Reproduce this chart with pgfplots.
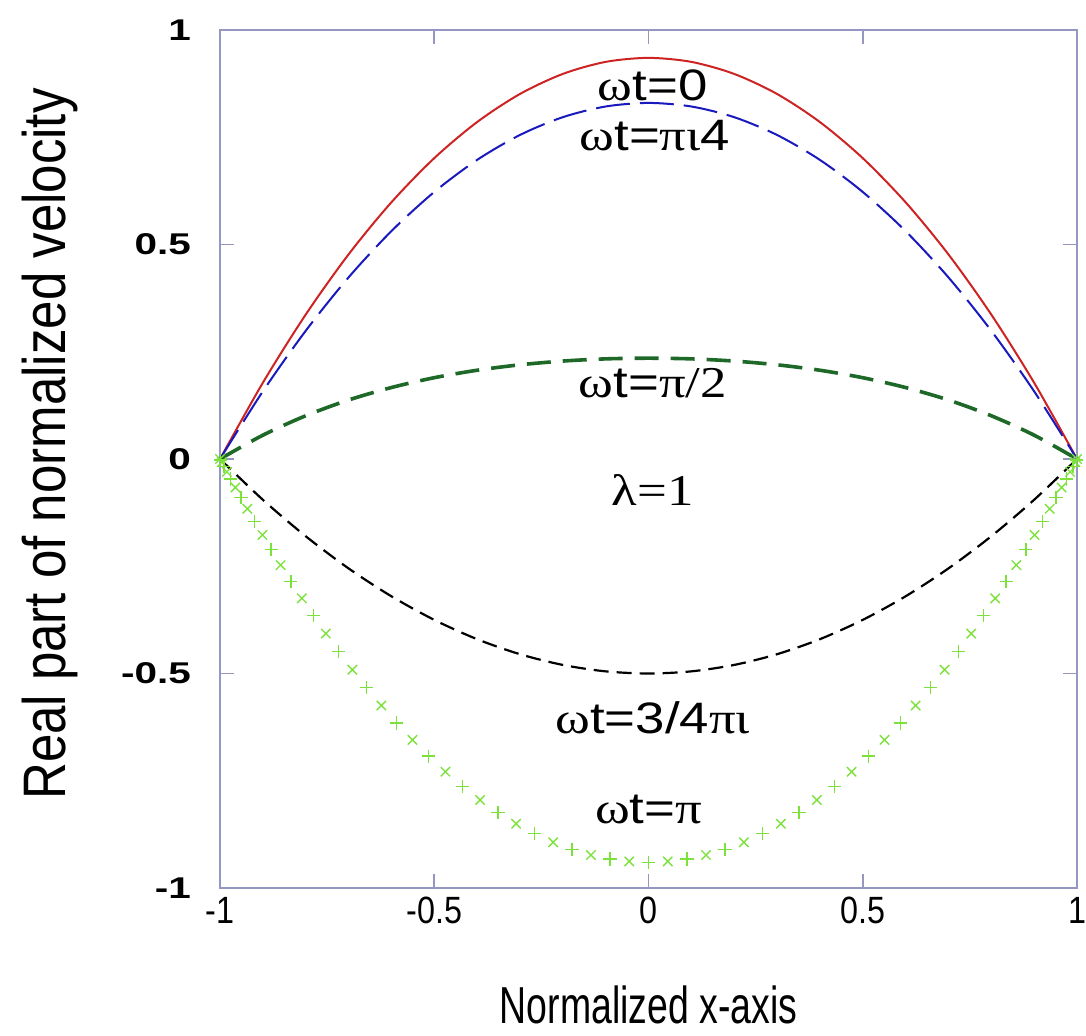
\documentclass[border=0pt]{standalone}
\usepackage{pgfplots}
\pgfplotsset{compat=1.18}
\usepackage{fontspec}
\setmainfont{Liberation Sans}
\newfontfamily\serif{Liberation Serif}
\definecolor{cred}{RGB}{205,35,35}
\definecolor{cblue}{RGB}{25,25,190}
\definecolor{cdgreen}{RGB}{30,105,40}
\definecolor{clgreen}{RGB}{125,225,60}
\definecolor{frame}{RGB}{150,150,195}
\newcommand{\lbl}{\fontsize{22}{26}\selectfont}
\newcommand{\ann}[1]{\scalebox{1.2}[1]{#1}}
\begin{document}
\begin{tikzpicture}
\path[use as bounding box] (-110pt,-73.5pt) rectangle (433pt,444pt);
\begin{axis}[
  at={(0,0)}, anchor=south west,
  scale only axis, width=428.5pt, height=429pt,
  xmin=-1, xmax=1, ymin=-1, ymax=1,
  xtick={-1,-0.5,0,0.5,1}, ytick={-1,-0.5,0,0.5,1},
  xticklabels={\scalebox{0.85}[1]{-1},\scalebox{0.85}[1]{-0.5},\scalebox{0.85}[1]{0},\scalebox{0.85}[1]{0.5},\scalebox{0.85}[1]{1}},
  yticklabels={\scalebox{1.35}[1]{\textbf{-1}},\scalebox{1.35}[1]{\textbf{-0.5}},\scalebox{1.35}[1]{\textbf{0}},\scalebox{1.35}[1]{\textbf{0.5}},\scalebox{1.35}[1]{\textbf{1}}},
  axis line style={color=frame, line width=0.8pt},
  tick style={color=frame, line width=0.8pt},
  major tick length=7pt, tick align=inside,
  xticklabel style={font=\fontsize{19}{19}\selectfont, yshift=-1pt},
  yticklabel style={font=\fontsize{15}{15}\selectfont, xshift=-11pt},
  clip=false,
]
% omega t = 0 (red)
\addplot[cred, line width=1pt, smooth] coordinates {
(-1,0) (-0.9,0.1777) (-0.8,0.3366) (-0.7,0.4769) (-0.6,0.5984) (-0.5,0.7013) (-0.4,0.7854) (-0.3,0.8509) (-0.2,0.8976) (-0.1,0.9257) (0,0.935)
(0.1,0.9257) (0.2,0.8976) (0.3,0.8509) (0.4,0.7854) (0.5,0.7013) (0.6,0.5984) (0.7,0.4769) (0.8,0.3366) (0.9,0.1777) (1,0)};
% omega t = pi/4 (blue)
\addplot[cblue, line width=1pt, smooth, dash pattern=on 17pt off 5pt] coordinates {
(-1,0) (-0.9,0.1577) (-0.8,0.2988) (-0.7,0.4233) (-0.6,0.5312) (-0.5,0.6225) (-0.4,0.6972) (-0.3,0.7553) (-0.2,0.7968) (-0.1,0.8217) (0,0.83)
(0.1,0.8217) (0.2,0.7968) (0.3,0.7553) (0.4,0.6972) (0.5,0.6225) (0.6,0.5312) (0.7,0.4233) (0.8,0.2988) (0.9,0.1577) (1,0)};
% omega t = pi/2 (dark green)
\addplot[cdgreen, line width=1.8pt, smooth, dash pattern=on 12pt off 6pt] coordinates {
(-1,0) (-0.9,0.0555) (-0.8,0.1008) (-0.7,0.1375) (-0.6,0.1666) (-0.5,0.1895) (-0.4,0.2069) (-0.3,0.2196) (-0.2,0.2283) (-0.1,0.2334) (0,0.235)
(0.1,0.2334) (0.2,0.2283) (0.3,0.2196) (0.4,0.2069) (0.5,0.1895) (0.6,0.1666) (0.7,0.1375) (0.8,0.1008) (0.9,0.0555) (1,0)};
% omega t = 3/4 pi (black)
\addplot[black, line width=1.1pt, smooth, dash pattern=on 7.5pt off 4pt] coordinates {
(-1,0) (-0.9,-0.095) (-0.8,-0.18) (-0.7,-0.255) (-0.6,-0.32) (-0.5,-0.375) (-0.4,-0.42) (-0.3,-0.455) (-0.2,-0.48) (-0.1,-0.495) (0,-0.5)
(0.1,-0.495) (0.2,-0.48) (0.3,-0.455) (0.4,-0.42) (0.5,-0.375) (0.6,-0.32) (0.7,-0.255) (0.8,-0.18) (0.9,-0.095) (1,0)};
% omega t = pi (light green, + marks)
\addplot[clgreen, only marks, mark=+, mark size=3.3pt, line width=0.7pt] coordinates {
(-0.99899,-0.0019) (-0.99095,-0.0169) (-0.97493,-0.0465) (-0.95106,-0.0898) (-0.91953,-0.1452) (-0.88061,-0.2111) (-0.83457,-0.2853) (-0.78183,-0.3654) (-0.72280,-0.4489) (-0.65794,-0.5331) (-0.58779,-0.6152) (-0.51290,-0.6927) (-0.43388,-0.7630) (-0.35138,-0.8239) (-0.26604,-0.8735) (-0.17856,-0.9101) (-0.08964,-0.9324) (0,-0.94)
(0.08964,-0.9324) (0.17856,-0.9101) (0.26604,-0.8735) (0.35138,-0.8239) (0.43388,-0.7630) (0.51290,-0.6927) (0.58779,-0.6152) (0.65794,-0.5331) (0.72280,-0.4489) (0.78183,-0.3654) (0.83457,-0.2853) (0.88061,-0.2111) (0.91953,-0.1452) (0.95106,-0.0898) (0.97493,-0.0465) (0.99095,-0.0169) (0.99899,-0.0019)};
% omega t = pi (light green, x marks)
\addplot[clgreen, only marks, mark=x, mark size=3.3pt, line width=0.7pt] coordinates {
(-1,0) (-0.99597,-0.0076) (-0.98394,-0.0300) (-0.96396,-0.0665) (-0.93623,-0.1161) (-0.90097,-0.1770) (-0.85845,-0.2473) (-0.80902,-0.3248) (-0.75307,-0.4069) (-0.69106,-0.4911) (-0.62349,-0.5746) (-0.55090,-0.6547) (-0.47387,-0.7289) (-0.39303,-0.7948) (-0.30902,-0.8502) (-0.22252,-0.8935) (-0.13424,-0.9231) (-0.04486,-0.9381)
(0.04486,-0.9381) (0.13424,-0.9231) (0.22252,-0.8935) (0.30902,-0.8502) (0.39303,-0.7948) (0.47387,-0.7289) (0.55090,-0.6547) (0.62349,-0.5746) (0.69106,-0.4911) (0.75307,-0.4069) (0.80902,-0.3248) (0.85845,-0.2473) (0.90097,-0.1770) (0.93623,-0.1161) (0.96396,-0.0665) (0.98394,-0.0300) (0.99597,-0.0076) (1,0)};
\node[font=\lbl] at (axis cs:0.01,0.872) {\ann{{\serif ω}t=0}};
\node[font=\lbl] at (axis cs:0.015,0.755) {\ann{{\serif ω}t={\serif πι}4}};
\node[font=\lbl] at (axis cs:0.01,0.177) {\ann{{\serif ω}t={\serif π/2}}};
\node[font=\lbl] at (axis cs:0.01,-0.072) {\ann{\serif λ=1}};
\node[font=\lbl] at (axis cs:0.01,-0.604) {\ann{{\serif ω}t=3/4{\serif πι}}};
\node[font=\lbl] at (axis cs:0,-0.818) {\ann{{\serif ω}t={\serif π}}};
\end{axis}
\node[font=\fontsize{26}{26}\selectfont] at (214.25pt,-58.5pt) {\scalebox{0.72}[1]{Normalized x-axis}};
\node[font=\fontsize{30}{30}\selectfont, rotate=90] at (-85pt,222pt) {\scalebox{0.85}[1]{Real part of normalized velocity}};
\end{tikzpicture}
\end{document}
